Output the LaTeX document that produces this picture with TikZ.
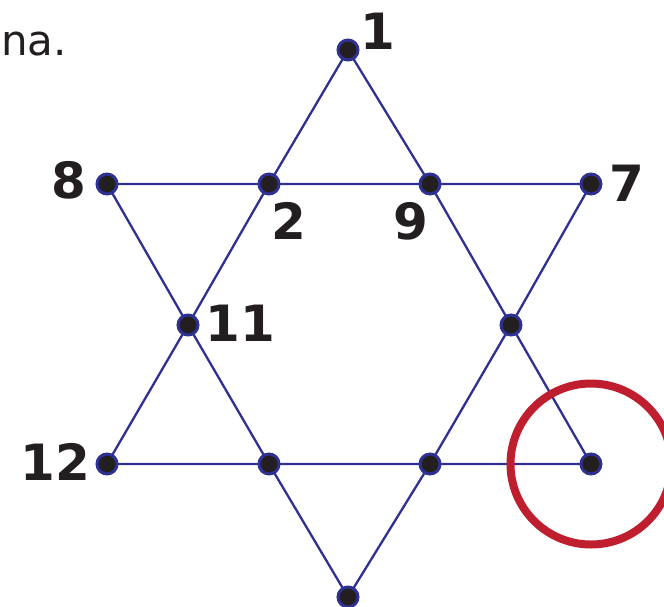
\documentclass[tikz,border=0pt]{standalone}
\usepackage{fontspec}
\setmainfont{DejaVu Sans}
\definecolor{starblue}{HTML}{2E3192}
\definecolor{dotfill}{HTML}{231F20}
\definecolor{ringred}{HTML}{BE1E2D}
\begin{document}
\begin{tikzpicture}[x=1pt,y=-1pt,
  vert/.style={circle,fill=dotfill,draw=starblue,line width=3pt,minimum size=20pt,inner sep=0pt},
  edge/.style={draw=starblue,line width=2.3pt},
  lab/.style={font=\fontsize{50}{50}\selectfont\bfseries,text=dotfill,inner sep=0pt}]
\useasboundingbox (0,0) rectangle (664,606);
\clip (0,0) rectangle (664,606);
\coordinate (n1) at (348,50);
\coordinate (n8) at (107,184);
\coordinate (n2) at (269,184);
\coordinate (n9) at (430,184);
\coordinate (n7) at (591,184);
\coordinate (n11) at (188,325);
\coordinate (n6) at (511,325);
\coordinate (n12) at (107,464);
\coordinate (n3) at (269,464);
\coordinate (n4) at (430,464);
\coordinate (n5) at (591,464);
\coordinate (n10) at (348,597);
% upward triangle
\draw[edge] (n1) -- (n2) -- (n11) -- (n12) -- (n3) -- (n4) -- (n5) -- (n6) -- (n9) -- (n1);
% downward triangle
\draw[edge] (n8) -- (n2) -- (n9) -- (n7) -- (n6) -- (n4) -- (n10) -- (n3) -- (n11) -- (n8);
\foreach \p in {n1,n8,n2,n9,n7,n11,n6,n12,n3,n4,n5,n10}
  \node[vert] (v\p) at (\p) {};
\node[circle,draw=ringred,line width=8pt,minimum size=161pt,inner sep=0pt] (ring) at (591,464) {};
\node[lab] (l1) at (378,31) {1};
\node[lab] (l8) at (69,180) {8};
\node[lab] (l2) at (289,221) {2};
\node[lab] (l9) at (411,221) {9};
\node[lab] (l7) at (627,183) {7};
\node[lab] (l11) at (240,323) {11};
\node[lab] (l12) at (55,462) {12};
\node[font=\fontsize{42}{42}\selectfont,text=dotfill,inner sep=0pt,anchor=base east] (txt) at (67,55) {na.};
\end{tikzpicture}
\end{document}
